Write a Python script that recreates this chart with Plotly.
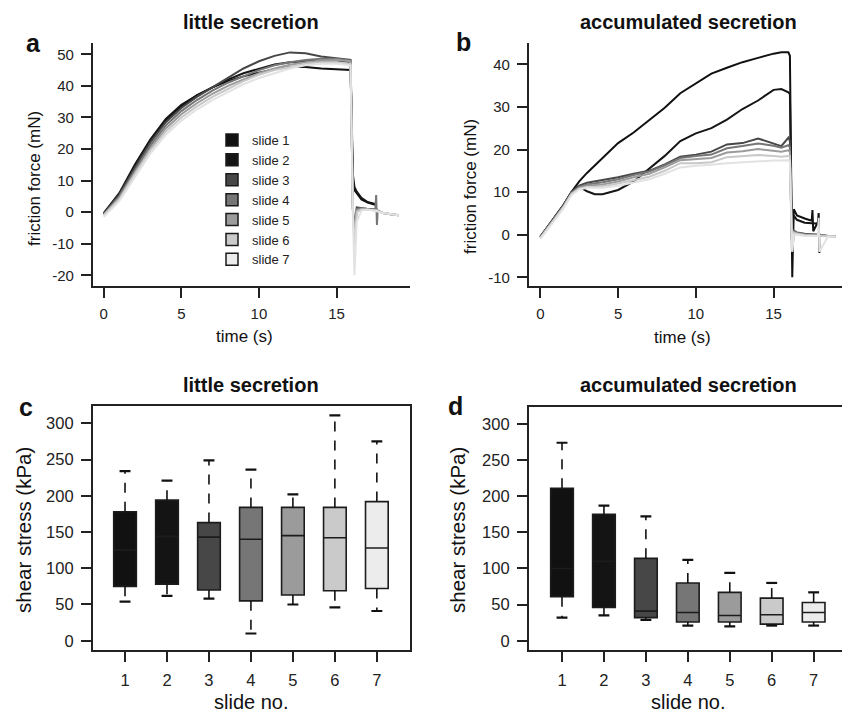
import plotly.graph_objects as go

W, H = 842, 715
FONT = "Liberation Sans, Arial, Helvetica, sans-serif"

# ---------------- data ----------------
slides = ["slide 1", "slide 2", "slide 3", "slide 4", "slide 5", "slide 6", "slide 7"]
slide_no = [1, 2, 3, 4, 5, 6, 7]
fill_colors = ["#111111", "#141414", "#474747", "#767676", "#9b9b9b", "#cacaca", "#ececec"]
line_colors = ["#111111", "#161616", "#474747", "#767676", "#9b9b9b", "#c8c8c8", "#e2e2e2"]

# panel a: little secretion, friction force (mN) vs time (s)
time_a = [0, 1, 2, 3, 4, 5, 6, 7, 8, 9, 10, 11, 12, 13, 14, 15, 15.9,
          16.05, 16.15, 16.3, 16.6, 17.0, 17.5, 17.55, 17.6, 17.65, 18.0, 18.5, 19.0]
force_a_1 = [-0.5, 5.5, 14.5, 22.5, 29, 33.5, 37, 39.5, 41.5, 43, 44.2, 45.3, 46, 46, 45.5, 45.2, 45,
             10, 7, 6, 4, 3, 2.3, 2.2, 2.2, None, None, None, None]
force_a_2 = [-0.3, 6, 15, 23, 29.5, 34, 37, 39.5, 42, 44, 45.5, 46.8, 47.5, 47.8, 48, 48, 47.5,
             12, 8, 6.5, 4.5, 3.2, 2.5, 2.4, 2.4, None, None, None, None]
force_a_3 = [-0.5, 5.5, 14, 22, 28.5, 33, 36.5, 39.5, 42.5, 45.5, 47.8, 49.5, 50.6, 50.3, 49.3, 48.6, 48.2,
             1, -5, 1.5, 1.2, 1, 0.8, 0.8, 0.8, 0.5, -0.3, -0.7, -1]
force_a_4 = [-0.8, 5, 13, 21, 27.5, 32, 35.5, 38.5, 41, 43, 45, 46.5, 47.5, 48.2, 48.6, 48.6, 48,
             1, -6, 1, 1.2, 1, 0.8, 5.4, -4.1, 0.5, -0.3, -0.7, -1]
force_a_5 = [-1, 4.5, 12.5, 20, 26.5, 31, 34.5, 37.5, 40, 42, 44, 45.5, 46.7, 47.5, 48, 48.2, 47.8,
             1, -8, 0.5, 1, 0.8, 0.6, 0.6, 0.6, 0.4, -0.3, -0.7, -1]
force_a_6 = [-1, 4, 12, 19.5, 25.5, 30, 33.5, 36.5, 39, 41.5, 43.5, 45, 46, 47, 47.5, 47.5, 47,
             0.5, -12, 0, 0.8, 0.8, 0.6, 0.6, 0.6, 0.4, -0.3, -0.7, -1]
force_a_7 = [-1.5, 3.5, 11, 18.5, 24.5, 29, 32.5, 35.5, 38, 40.5, 42.5, 44, 45.5, 46.5, 47, 47, 46.5,
             0, -20, -3, 0.5, 0.8, 0.5, 0.4, 0.3, 0.2, -0.3, -0.7, -1]

# panel b: accumulated secretion
time_b = [0, 0.5, 1, 1.5, 2, 2.5, 3, 3.5, 4, 5, 6, 7, 8, 9, 10, 11, 12, 13, 14, 15, 15.5, 15.95,
          16.05, 16.15, 16.2, 16.3, 16.5, 17.0, 17.45, 17.5, 17.55, 17.85, 17.9, 17.95, 18.5, 19.0]
force_b_1 = [-0.5, 2, 4.5, 7, 10, 12.5, 14.5, 16.2, 18, 21.5, 24, 26.8, 29.8, 33.2, 35.5, 37.8, 39.2, 40.5, 41.5, 42.5, 42.8, 42.8,
             42, 8, -10, 6, 4.5, 3.8, 3.3, 5.8, 0.8, 3.0, 5.1, -4.3, None, None]
force_b_2 = [-0.5, 2, 4.5, 7, 10, 11.3, 10.2, 9.5, 9.5, 10.5, 12.5, 15.5, 18.5, 22, 23.8, 25, 27, 29.5, 31.5, 34, 34.2, 33.4,
             33, 6, 2, 4.5, 3.5, 2.8, 2.7, 2.7, 2.7, 2.6, 2.6, 2.6, None, None]
force_b_3 = [-0.5, 2, 4.5, 7, 10, 11.5, 12.2, 12.5, 12.8, 13.5, 14.3, 15, 16.5, 18.3, 18.8, 19.5, 21.2, 21.5, 22.6, 21.5, 20.8, 22.8,
             22, 3, -3, 1, 0.5, 0.2, 0, 0, 0, 0, 0, 0, -0.3, -0.4]
force_b_4 = [-0.6, 1.8, 4.3, 6.8, 9.8, 11.2, 11.8, 12, 12.3, 13, 14, 14.8, 16.3, 18, 18.5, 18.8, 20.3, 20.8, 21.4, 20.9, 20.4, 21,
             20.5, 2, -3, 1, 0.4, 0.1, 0, 0, 0, 0, 0, 0, -0.3, -0.4]
force_b_5 = [-0.7, 1.7, 4.2, 6.7, 9.7, 11, 11.5, 11.6, 11.8, 12.5, 13.5, 14.3, 15.8, 17.5, 17.8, 18, 19.3, 19.6, 20.1, 19.8, 19.5, 19.8,
             19.5, 1.5, -3.5, 0.5, 0.3, 0, -0.1, -0.1, -0.1, -0.1, -0.1, -0.1, -0.3, -0.4]
force_b_6 = [-0.8, 1.5, 4, 6.5, 9.5, 10.8, 11.2, 11.2, 11.4, 12, 12.8, 13.6, 15, 16.8, 16.8, 17, 18.2, 18.4, 18.7, 18.5, 18.3, 18.5,
             18.5, 1, -4, 0.5, 0.2, -0.1, -0.2, -0.2, -0.2, -0.2, -0.2, -0.2, -0.3, -0.4]
force_b_7 = [-1, 1.3, 3.8, 6.3, 9.3, 10.6, 11, 11, 11, 11.5, 12.2, 13, 14.3, 15.8, 16.2, 16.4, 16.8, 17, 17.3, 17.4, 17.4, 17.5,
             17.3, 1, -4, 0, 0, -0.3, -0.3, -0.3, -0.3, -0.3, 4, -4, -0.4, -0.5]

# tick labels
ticks_a = [-20, -10, 0, 10, 20, 30, 40, 50]
ticktext_a = ["-20", "-10", "0", "10", "20", "30", "40", "50"]
ticks_b = [-10, 0, 10, 20, 30, 40]
ticktext_b = ["-10", "0", "10", "20", "30", "40"]
ticks_time = [0, 5, 10, 15]
ticks_stress = [0, 50, 100, 150, 200, 250, 300]

# panel c: little secretion, shear stress (kPa)
c_upper = [234, 221, 249, 236, 202, 311, 275]
c_q3 = [178, 194, 163, 184, 184, 184, 192]
c_median = [125, 144, 143, 140, 145, 142, 128]
c_q1 = [75, 78, 70, 55, 63, 69, 72]
c_lower = [54, 62, 58, 10, 50, 46, 41]

# panel d: accumulated secretion, shear stress (kPa)
d_upper = [274, 187, 172, 112, 94, 80, 67]
d_q3 = [211, 175, 114, 80, 67, 59, 53]
d_median = [100, 110, 41, 39, 35, 36, 39]
d_q1 = [61, 46, 32, 26, 26, 23, 26]
d_lower = [32, 35, 29, 21, 20, 21, 21]

forces_a = [force_a_1, force_a_2, force_a_3, force_a_4, force_a_5, force_a_6, force_a_7]
forces_b = [force_b_1, force_b_2, force_b_3, force_b_4, force_b_5, force_b_6, force_b_7]


def X(px):
    return px / W


def Y(py):
    return 1 - py / H


fig = go.Figure()

# line panels
for i, s in enumerate(slides):
    fig.add_trace(go.Scatter(x=time_a, y=forces_a[i], mode="lines", xaxis="x", yaxis="y",
                             line=dict(color=line_colors[i], width=2), showlegend=False,
                             connectgaps=False, hoverinfo="skip"))
    fig.add_trace(go.Scatter(x=time_b, y=forces_b[i], mode="lines", xaxis="x2", yaxis="y2",
                             line=dict(color=line_colors[i], width=2), showlegend=False,
                             connectgaps=False, hoverinfo="skip"))

# legend entries (filled squares)
for i, s in enumerate(slides):
    fig.add_trace(go.Scatter(x=[None], y=[None], mode="markers", name=s, xaxis="x", yaxis="y",
                             marker=dict(symbol="square", size=12, color=fill_colors[i],
                                         line=dict(color="#1a1a1a", width=1.5)),
                             showlegend=True))

CAP = 0.13


def add_boxes(xa, ya, upper, q3, med, q1, lower):
    for i, n in enumerate(slide_no):
        # dashed whiskers
        fig.add_trace(go.Scatter(x=[n, n, None, n, n], y=[q3[i], upper[i], None, q1[i], lower[i]],
                                 mode="lines", xaxis=xa, yaxis=ya, showlegend=False,
                                 line=dict(color="#111111", width=1.6, dash="10px,9px"),
                                 hoverinfo="skip"))
        # staples
        fig.add_trace(go.Scatter(x=[n - CAP, n + CAP, None, n - CAP, n + CAP],
                                 y=[upper[i], upper[i], None, lower[i], lower[i]],
                                 mode="lines", xaxis=xa, yaxis=ya, showlegend=False,
                                 line=dict(color="#111111", width=2.2), hoverinfo="skip"))
        fig.add_trace(go.Box(x=[n], q1=[q1[i]], median=[med[i]], q3=[q3[i]],
                             lowerfence=[q1[i]], upperfence=[q3[i]],
                             xaxis=xa, yaxis=ya, width=0.54, fillcolor=fill_colors[i],
                             line=dict(color="#1c1c1c", width=1.6), showlegend=False,
                             hoverinfo="skip"))


add_boxes("x3", "y3", c_upper, c_q3, c_median, c_q1, c_lower)
add_boxes("x4", "y4", d_upper, d_q3, d_median, d_q1, d_lower)

ax_common = dict(showline=True, linecolor="#222222", linewidth=1.5, ticks="outside", ticklen=10,
                 tickwidth=1.5, tickcolor="#222222", showgrid=False, zeroline=False,
                 automargin=False, color="#222222")

tick_small = dict(family=FONT, size=15, color="#222222")
tick_big = dict(family=FONT, size=16.5, color="#222222")

fig.update_layout(
    width=W, height=H,
    margin=dict(l=0, r=0, t=0, b=0),
    paper_bgcolor="white", plot_bgcolor="white",
    template="none",
    font=dict(family=FONT, color="#222222"),
    showlegend=True,
    legend=dict(x=X(212), y=Y(125), xanchor="left", yanchor="top", bgcolor="rgba(0,0,0,0)",
                font=dict(family=FONT, size=13, color="#222222"), tracegroupgap=0,
                itemsizing="trace"),
    xaxis=dict(domain=[X(92.7), X(410)], range=[-0.71, 19.73], tickvals=ticks_time,
               anchor="y", tickfont=tick_small, ticklabelstandoff=3, **ax_common),
    yaxis=dict(domain=[Y(286), Y(42.7)], range=[-23.4, 53.67], tickvals=ticks_a, ticktext=ticktext_a,
               anchor="x", tickfont=tick_small, ticklabelstandoff=4, **ax_common),
    xaxis2=dict(domain=[X(528.7), 1.0], range=[-0.75, 19.4], tickvals=ticks_time,
                anchor="y2", tickfont=tick_small, ticklabelstandoff=3, **ax_common),
    yaxis2=dict(domain=[Y(286), Y(42.7)], range=[-12.04, 45.07], tickvals=ticks_b, ticktext=ticktext_b,
                anchor="x2", tickfont=tick_small, ticklabelstandoff=4, **ax_common),
    xaxis3=dict(domain=[X(92.7), X(410)], range=[0.23, 7.79], tickvals=slide_no, mirror=True,
                anchor="y3", tickfont=tick_big, ticklabelstandoff=4, **ax_common),
    yaxis3=dict(domain=[Y(650), Y(406)], range=[-12.8, 323.9], tickvals=ticks_stress,
                mirror=True, anchor="x3", tickfont=tick_big, ticklabelstandoff=4, **ax_common),
    xaxis4=dict(domain=[X(528.7), 1.0], range=[0.206, 7.676], tickvals=slide_no, mirror=True,
                anchor="y4", tickfont=tick_big, ticklabelstandoff=4, **ax_common),
    yaxis4=dict(domain=[Y(650), Y(406.7)], range=[-12.8, 323.9], tickvals=ticks_stress,
                anchor="x4", tickfont=tick_big, ticklabelstandoff=4, **ax_common),
)


def ann(text, px, py, size, bold=False, angle=0, yanchor="middle"):
    fig.add_annotation(text=("<b>%s</b>" % text) if bold else text, x=X(px), y=Y(py),
                       xref="paper", yref="paper", xanchor="center", yanchor=yanchor,
                       showarrow=False, textangle=angle,
                       font=dict(family=FONT, size=size, color="#111111"))


# titles
ann("little secretion", 251, 22, 20, bold=True)
ann("accumulated secretion", 688, 22, 20, bold=True)
ann("little secretion", 251, 385, 20, bold=True)
ann("accumulated secretion", 688, 385, 20, bold=True)
# panel letters
ann("a", 33, 43, 25, bold=True)
ann("b", 463, 42, 25, bold=True)
ann("c", 26, 407, 25, bold=True)
ann("d", 455, 406, 25, bold=True)
# axis titles
ann("time (s)", 244, 336, 17)
ann("time (s)", 682, 337, 17)
ann("friction force (mN)", 35, 179, 17, angle=-90)
ann("friction force (mN)", 471, 187, 17, angle=-90)
ann("slide no.", 251, 715, 20, yanchor="bottom")
ann("slide no.", 688, 715, 20, yanchor="bottom")
ann("shear stress (kPa)", 23, 530, 20.5, angle=-90)
ann("shear stress (kPa)", 457, 530, 20.5, angle=-90)

fig.write_html("out.html", config={"displayModeBar": False},
               post_script="document.body.style.margin='0';document.body.style.padding='0';document.body.style.overflow='hidden';")
